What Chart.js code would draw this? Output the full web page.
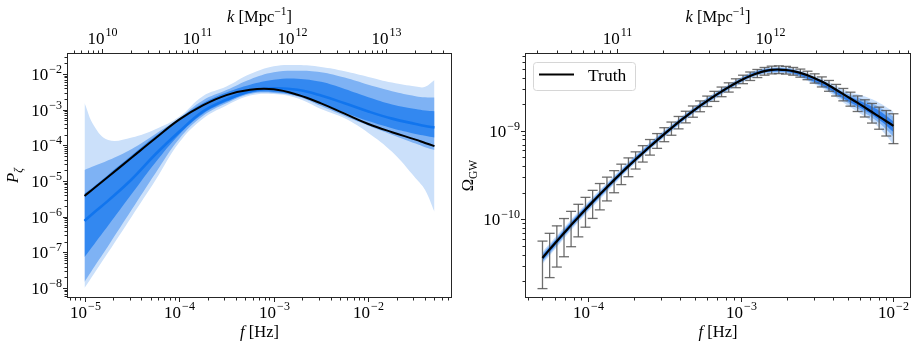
<!DOCTYPE html>
<html>
<head>
<meta charset="utf-8">
<script src="https://cdn.jsdelivr.net/npm/chart.js@4.4.1/dist/chart.umd.min.js"></script>
<style>
  body { margin: 0; background: #fff; }
  #wrap { display: flex; width: 918px; height: 350px; }
  canvas { display: block; }
</style>
</head>
<body>
<div id="wrap">
  <canvas id="left" width="459" height="350"></canvas>
  <canvas id="right" width="459" height="350"></canvas>
</div>
<script>
// ---- left panel: reconstructed P_zeta ----
var fP      = [1e-5, 1.26e-5, 1.78e-5, 3.16e-5, 5.62e-5, 1e-4, 1.78e-4, 3.16e-4, 5.62e-4, 1e-3, 1.78e-3, 3.16e-3, 5.62e-3, 1e-2, 1.78e-2, 3.16e-2, 3.98e-2, 5e-2];
var pTruth  = [3.8e-6, 6.31e-6, 1.32e-5, 4.57e-5, 1.58e-4, 5.25e-4, 1.32e-3, 2.57e-3, 3.63e-3, 3.72e-3, 2.63e-3, 1.51e-3, 7.76e-4, 3.98e-4, 2.34e-4, 1.45e-4, 1.17e-4, 9.55e-5];
var pMedian = [7.59e-7, 1.32e-6, 2.82e-6, 1.12e-5, 5.62e-5, 2.4e-4, 8.91e-4, 1.91e-3, 3.31e-3, 3.98e-3, 3.63e-3, 2.51e-3, 1.51e-3, 8.91e-4, 5.62e-4, 3.98e-4, 3.47e-4, 3.16e-4];
var pHi1    = [4.47e-6, 7.08e-6, 1.51e-5, 5.25e-5, 1.82e-4, 5.62e-4, 1.51e-3, 3.02e-3, 5.01e-3, 6.92e-3, 7.41e-3, 6.03e-3, 3.8e-3, 2.24e-3, 1.41e-3, 1.05e-3, 9.55e-4, 9.12e-4];
var pLo1    = [7.41e-8, 1.66e-7, 5.62e-7, 4.37e-6, 3.31e-5, 2.0e-4, 7.59e-4, 1.66e-3, 2.95e-3, 3.16e-3, 2.51e-3, 1.51e-3, 8.32e-4, 4.79e-4, 3.02e-4, 2.09e-4, 1.86e-4, 1.66e-4];
var pHi2    = [2.04e-5, 2.63e-5, 3.8e-5, 7.94e-5, 2.09e-4, 5.75e-4, 1.82e-3, 3.55e-3, 7.08e-3, 1.12e-2, 1.23e-2, 1.12e-2, 7.94e-3, 5.01e-3, 3.31e-3, 2.4e-3, 2.24e-3, 2.19e-3];
var pLo2    = [1.48e-8, 3.8e-8, 1.51e-7, 1.58e-6, 1.66e-5, 1.51e-4, 6.61e-4, 1.51e-3, 2.75e-3, 2.95e-3, 2.34e-3, 1.26e-3, 6.61e-4, 3.55e-4, 2.0e-4, 1.12e-4, 8.91e-5, 7.41e-5];
var pHi3    = [1.55e-3, 3.55e-4, 1.41e-4, 1.66e-4, 2.82e-4, 6.31e-4, 2.4e-3, 4.47e-3, 1.0e-2, 1.66e-2, 1.78e-2, 1.58e-2, 1.2e-2, 8.32e-3, 5.75e-3, 4.47e-3, 4.37e-3, 6.76e-3];
var pLo3    = [1.0e-8, 2.51e-8, 1.0e-7, 1.02e-6, 1.05e-5, 1.2e-4, 5.62e-4, 1.32e-3, 2.51e-3, 2.75e-3, 2.09e-3, 1.05e-3, 5.75e-4, 2.24e-4, 6.61e-5, 1.2e-5, 5.62e-6, 1.38e-6];

// ---- right panel: Omega_GW data ----
var fO = [5.0e-5, 5.57e-5, 6.21e-5, 6.92e-5, 7.7e-5, 8.59e-5, 9.57e-5, 1.066e-4, 1.188e-4, 1.323e-4,
          1.474e-4, 1.643e-4, 1.83e-4, 2.039e-4, 2.272e-4, 2.532e-4, 2.821e-4, 3.143e-4, 3.502e-4, 3.902e-4,
          4.347e-4, 4.843e-4, 5.396e-4, 6.012e-4, 6.699e-4, 7.464e-4, 8.316e-4, 9.267e-4, 1.032e-3, 1.15e-3,
          1.281e-3, 1.428e-3, 1.591e-3, 1.773e-3, 1.975e-3, 2.201e-3, 2.452e-3, 2.732e-3, 3.044e-3, 3.392e-3,
          3.779e-3, 4.21e-3, 4.691e-3, 5.226e-3, 5.824e-3, 6.489e-3, 7.228e-3, 8.054e-3, 8.974e-3, 1.0e-2];
var omega = [3.66e-11, 4.57e-11, 5.66e-11, 6.99e-11, 8.6e-11, 1.056e-10, 1.293e-10, 1.575e-10, 1.909e-10, 2.307e-10,
             2.774e-10, 3.336e-10, 3.99e-10, 4.747e-10, 5.62e-10, 6.65e-10, 7.83e-10, 9.2e-10, 1.075e-9, 1.254e-9,
             1.449e-9, 1.668e-9, 1.913e-9, 2.179e-9, 2.475e-9, 2.781e-9, 3.118e-9, 3.476e-9, 3.837e-9, 4.17e-9,
             4.473e-9, 4.735e-9, 4.898e-9, 4.936e-9, 4.872e-9, 4.735e-9, 4.519e-9, 4.257e-9, 3.939e-9, 3.605e-9,
             3.258e-9, 2.914e-9, 2.6e-9, 2.319e-9, 2.069e-9, 1.84e-9, 1.633e-9, 1.449e-9, 1.286e-9, 1.139e-9];
var omegaRelErr = [0.55, 0.52, 0.49, 0.46, 0.43, 0.4, 0.37, 0.35, 0.33, 0.3,
                   0.28, 0.26, 0.24, 0.22, 0.21, 0.2, 0.19, 0.18, 0.17, 0.16,
                   0.15, 0.145, 0.14, 0.135, 0.13, 0.125, 0.12, 0.115, 0.11, 0.11,
                   0.105, 0.1, 0.1, 0.1, 0.1, 0.1, 0.105, 0.11, 0.12, 0.13,
                   0.14, 0.15, 0.16, 0.18, 0.2, 0.22, 0.25, 0.28, 0.32, 0.37];
var fBand  = [5e-5, 1e-4, 3.16e-4, 1e-3, 1.78e-3, 3.16e-3, 5.01e-3, 6.31e-3, 7.94e-3, 1e-2];
var oHi1 = [3.93e-11, 1.49e-10, 9.73e-10, 3.86e-9, 5.06e-9, 3.81e-9, 2.5e-9, 2.11e-9, 1.72e-9, 1.28e-9];
var oLo1 = [3.42e-11, 1.33e-10, 8.87e-10, 3.61e-9, 4.72e-9, 3.48e-9, 2.18e-9, 1.76e-9, 1.36e-9, 9.7e-10];
var oHi2 = [4.11e-11, 1.53e-10, 9.96e-10, 3.96e-9, 5.18e-9, 3.94e-9, 2.62e-9, 2.27e-9, 1.88e-9, 1.44e-9];
var oLo2 = [3.27e-11, 1.28e-10, 8.68e-10, 3.52e-9, 4.61e-9, 3.36e-9, 2.08e-9, 1.64e-9, 1.25e-9, 8.65e-10];
var oHi3 = [4.31e-11, 1.59e-10, 1.02e-9, 4.05e-9, 5.3e-9, 4.09e-9, 2.81e-9, 2.49e-9, 2.11e-9, 1.65e-9];
var oLo3 = [3.12e-11, 1.23e-10, 8.47e-10, 3.44e-9, 4.51e-9, 3.25e-9, 1.94e-9, 1.5e-9, 1.11e-9, 7.03e-10];

var kPerHz = 6.47e14;   // k [Mpc^-1] per f [Hz]
var SERIF = '"Liberation Serif", "DejaVu Serif", serif';

function pts(xs, ys) {
  return xs.map(function(x, i) { return { x: x, y: ys[i] }; });
}

function logTicks(min, max) {
  var out = [];
  for (var d = Math.floor(Math.log10(min)); d <= Math.ceil(Math.log10(max)); d++) {
    for (var m = 1; m <= 9; m++) {
      var v = m * Math.pow(10, d);
      if (v >= min && v <= max) out.push({ v: v, major: m === 1, exp: d });
    }
  }
  return out;
}

function drawTen(ctx, x, y, exp, align) {
  var e = String(exp).replace('-', '\u2212');
  ctx.font = '17px ' + SERIF;
  var w1 = ctx.measureText('10').width;
  ctx.font = '12px ' + SERIF;
  var w2 = ctx.measureText(e).width;
  var x0 = align === 'right' ? x - w1 - w2 - 1 : x - (w1 + w2 + 1) / 2;
  ctx.textAlign = 'left';
  ctx.textBaseline = 'alphabetic';
  ctx.font = '17px ' + SERIF;
  ctx.fillText('10', x0, y);
  ctx.font = '12px ' + SERIF;
  ctx.fillText(e, x0 + w1 + 1, y - 7.5);
}

// parts: {t, it, sup, sub}
function drawTitle(ctx, parts, x, y, rotate) {
  var size = 16.5;
  function fontOf(p) {
    var s = (p.sup || p.sub) ? size * 0.7 : size;
    return (p.it ? 'italic ' : '') + s + 'px ' + SERIF;
  }
  var w = 0;
  parts.forEach(function(p) { ctx.font = fontOf(p); p.w = ctx.measureText(p.t).width; w += p.w; });
  ctx.save();
  ctx.translate(x, y);
  if (rotate) ctx.rotate(-Math.PI / 2);
  var cx = -w / 2;
  ctx.textAlign = 'left';
  ctx.textBaseline = 'alphabetic';
  parts.forEach(function(p) {
    ctx.font = fontOf(p);
    var dy = p.sup ? -7 : (p.sub ? 4 : 0);
    ctx.fillText(p.t, cx, dy);
    cx += p.w;
  });
  ctx.restore();
}

function tick(ctx, x1, y1, x2, y2) {
  ctx.beginPath(); ctx.moveTo(x1, y1); ctx.lineTo(x2, y2); ctx.stroke();
}

// frame, ticks and labels drawn from the chart's own scales
function axesPlugin(spec) {
  return {
    id: 'texAxes',
    afterDraw: function(chart) {
      var ctx = chart.ctx, a = chart.chartArea;
      var xs = chart.scales.x, ys = chart.scales.y;
      ctx.save();
      ctx.fillStyle = '#000';
      ctx.strokeStyle = '#262626';
      ctx.lineWidth = 1;
      logTicks(xs.min, xs.max).forEach(function(t) {
        var px = Math.round(xs.getPixelForValue(t.v)) + 0.5;
        tick(ctx, px, a.bottom, px, a.bottom + (t.major ? 4 : 2.5));
        if (t.major) drawTen(ctx, px, a.bottom + 19.5, t.exp, 'center');
      });
      logTicks(xs.min * kPerHz, xs.max * kPerHz).forEach(function(t) {
        var px = Math.round(xs.getPixelForValue(t.v / kPerHz)) + 0.5;
        tick(ctx, px, a.top, px, a.top - (t.major ? 4 : 2.5));
        if (t.major) drawTen(ctx, px, a.top - 9.5, t.exp, 'center');
      });
      logTicks(ys.min, ys.max).forEach(function(t) {
        var py = Math.round(ys.getPixelForValue(t.v)) + 0.5;
        tick(ctx, a.left, py, a.left - (t.major ? 4 : 2.5), py);
        if (t.major) drawTen(ctx, a.left - 5, py + 5.5, t.exp, 'right');
      });
      ctx.strokeRect(a.left + 0.5, a.top + 0.5, a.right - a.left - 1, a.bottom - a.top - 1);
      var mid = (a.left + a.right) / 2;
      drawTitle(ctx, [{ t: 'f', it: true }, { t: ' [Hz]' }], mid, 337);
      drawTitle(ctx, [{ t: 'k', it: true }, { t: ' [Mpc' }, { t: '\u22121', sup: true }, { t: ']' }], mid, 22);
      drawTitle(ctx, spec.yTitle, spec.yTitleX, (a.top + a.bottom) / 2, true);
      ctx.restore();
    }
  };
}

function band(data, color) {
  return { data: data, borderWidth: 0, pointRadius: 0, backgroundColor: color, fill: '+1' };
}
function edge(data) {
  return { data: data, borderWidth: 0, pointRadius: 0, fill: false };
}

var common = {
  responsive: false,
  animation: false,
  devicePixelRatio: 1,
  events: [],
  elements: { line: { tension: 0.4 } },
  plugins: { legend: { display: false }, tooltip: { enabled: false } }
};

// left chart
new Chart(document.getElementById('left'), {
  type: 'line',
  data: {
    datasets: [
      { data: pts(fP, pTruth), borderColor: '#000', borderWidth: 2, pointRadius: 0, fill: false },
      { data: pts(fP, pMedian), borderColor: '#1175ee', borderWidth: 2.6, pointRadius: 0, fill: false },
      band(pts(fP, pHi1), '#3388f0'), edge(pts(fP, pLo1)),
      band(pts(fP, pHi2), '#7eb2f4'), edge(pts(fP, pLo2)),
      band(pts(fP, pHi3), '#cbe0fa'), edge(pts(fP, pLo3))
    ]
  },
  options: Object.assign({}, common, {
    layout: { padding: { left: 67, right: 7, top: 53, bottom: 52 } },
    scales: {
      x: { type: 'logarithmic', display: false, min: 6.53e-6, max: 0.0766 },
      y: { type: 'logarithmic', display: false, min: 5.25e-9, max: 0.0389 }
    }
  }),
  plugins: [axesPlugin({ yTitle: [{ t: 'P', it: true }, { t: '\u03b6', it: true, sub: true }], yTitleX: 18 })]
});

// error bars under the truth line, legend on top
var errorBars = {
  id: 'errorBars',
  afterDatasetDraw: function(chart, args) {
    if (args.index !== 1) return;
    var ctx = chart.ctx, xs = chart.scales.x, ys = chart.scales.y;
    ctx.save();
    ctx.strokeStyle = 'rgba(85,85,85,0.85)';
    ctx.lineWidth = 1.3;
    fO.forEach(function(f, i) {
      var x = xs.getPixelForValue(f);
      var top = ys.getPixelForValue(omega[i] * (1 + omegaRelErr[i]));
      var bot = ys.getPixelForValue(omega[i] * (1 - omegaRelErr[i]));
      tick(ctx, x, top, x, bot);
      tick(ctx, x - 5, top, x + 5, top);
      tick(ctx, x - 5, bot, x + 5, bot);
    });
    ctx.restore();
  },
  afterDraw: function(chart) {
    var ctx = chart.ctx, a = chart.chartArea;
    var bx = a.left + 8, by = a.top + 9, bw = 102, bh = 28;
    ctx.save();
    ctx.beginPath();
    ctx.roundRect(bx + 0.5, by + 0.5, bw, bh, 3);
    ctx.fillStyle = 'rgba(255,255,255,0.8)';
    ctx.fill();
    ctx.strokeStyle = '#d6d6d6';
    ctx.lineWidth = 1;
    ctx.stroke();
    ctx.strokeStyle = '#000';
    ctx.lineWidth = 2;
    tick(ctx, bx + 6, by + 12.5, bx + 41, by + 12.5);
    ctx.fillStyle = '#000';
    ctx.font = '17.5px ' + SERIF;
    ctx.textAlign = 'left';
    ctx.textBaseline = 'alphabetic';
    ctx.fillText('Truth', bx + 55, by + 18.5);
    ctx.restore();
  }
};

// right chart
new Chart(document.getElementById('right'), {
  type: 'line',
  data: {
    datasets: [
      { data: pts(fO, omega), borderColor: '#000', borderWidth: 2.2, pointRadius: 0, fill: false },
      band(pts(fBand, oHi1), 'rgba(20,110,235,0.75)'), edge(pts(fBand, oLo1)),
      band(pts(fBand, oHi2), 'rgba(60,140,240,0.5)'), edge(pts(fBand, oLo2)),
      band(pts(fBand, oHi3), 'rgba(120,175,245,0.4)'), edge(pts(fBand, oLo3))
    ]
  },
  options: Object.assign({}, common, {
    layout: { padding: { left: 66, right: 7, top: 53, bottom: 52 } },
    scales: {
      x: { type: 'logarithmic', display: false, min: 3.84e-5, max: 0.01303 },
      y: { type: 'logarithmic', display: false, min: 1.29e-11, max: 7.59e-9 }
    }
  }),
  plugins: [errorBars, axesPlugin({ yTitle: [{ t: '\u03a9' }, { t: 'GW', sub: true }], yTitleX: 14 })]
});
</script>
</body>
</html>
